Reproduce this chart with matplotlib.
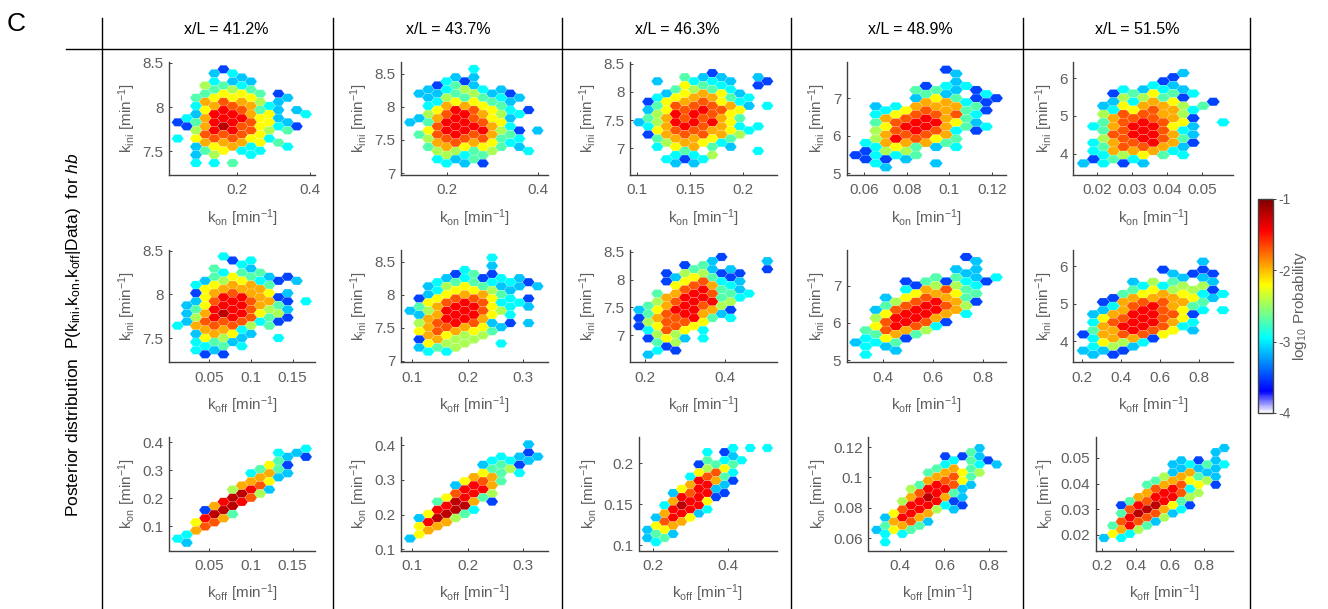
import matplotlib

matplotlib.use("Agg")
import matplotlib.pyplot as plt
import numpy as np
from matplotlib.cm import ScalarMappable
from matplotlib.collections import PolyCollection
from matplotlib.colors import LinearSegmentedColormap, Normalize
from matplotlib.lines import Line2D

plt.rcParams["font.family"] = ["Liberation Sans", "DejaVu Sans"]
plt.rcParams["mathtext.fontset"] = "custom"
plt.rcParams["mathtext.rm"] = "Liberation Sans"
plt.rcParams["mathtext.it"] = "Liberation Sans:italic"
plt.rcParams["mathtext.default"] = "regular"

POSITIONS = ["41.2", "43.7", "46.3", "48.9", "51.5"]
KINI = "k$_{ini}$ [min$^{-1}$]"
KON = "k$_{on}$ [min$^{-1}$]"
KOFF = "k$_{off}$ [min$^{-1}$]"

# log10 probability for each colour class used in the grids below
LEVELS = [-3.5, -3.12, -2.95, -2.7, -2.45, -2.2, -1.95, -1.7, -1.44, -1.2]

# grids: one string per half row, top to bottom, one character per hex column
G00 = [".....0", "....1.2", ".......1", "....2.1.1", "...4.3.2", "....3.4.3", "...3.5.5.3.0",
       "..3.5.5.5...1", "...6.7.6.4.1", "..2.6.7.6.2", "...5.8.7.3.1.1", "..1.8.8.6.5...2",
       ".2.6.8.8.5.1", "0.3.8.8.7.5.1", ".0.6.9.7.5.2.0", "..4.8.8.7.4.3", "...7.7.7.5",
       "2.5.7.7.5.2", "...6.6.6.5.3", "..1.5.6.2...2", "...3.5.2.2", "..1.4...2", "", "..2.2.3"]
G10 = [".....2", "......0.2", ".......2", "....3...1", ".....2.3.3", "....3.5.3.1.0", "...1.4.5.2.0.1",
       "..2.5.6.6.3", "...5.6.6.6", "..0.6.7.6.5.1", "...5.8.8.6.0", "..1.7.8.7.6.0.2",
       ".1.5.8.8.6.3", "..3.8.8.7.4.1", ".1.6.9.8.5.4", "..4.8.8.7.3.0", ".1.7.7.7.2.0",
       "2.6.7.7.4.3", "...6.6.2", "..1.6.5.1", "...5.4.1...2", "..2.3.1", "...2.3.2", "..2.1", "...0.0"]
G20 = ["..............2", "...........2.1", "............1.0", "...........3", "..........5.0",
       ".........3.3", "........2.6.1", ".........6.1", "........6.5", ".......6.7", "......4.8.1",
       ".......9.4", "......9.7", ".....8.8", "....6.9", "...0.9", "....9.3", "...8.6", "..5.7",
       "...7", "..6", ".2", "2", ".1"]

G01 = [".......2", "", ".....1.1", "....2.0", "...0.3.1", "..1.2.4.2.1", ".1.1.3.4.1.0",
       "..1.4.3.3.2.1", "...2.5.5.3.1", "..2.6.6.5.3", "...5.8.7.5.2.0", "..4.7.8.6.4.2",
       ".1.6.8.7.5.1", "1.3.8.8.7.5", "...7.8.8.6.2", "..5.8.8.8.4.0.1", ".3.7.8.7.6.3",
       "..4.7.7.7.3.2", "...6.7.6.5.2", "..3.6.5.5.3.1", "...4.4.3.4...2", "....4.2.3",
       "...2.1.3", "....2.1.0"]
G11 = [".........2", "", ".........1", "......2", ".....0.3.0", "....1.2.0.2.1", "...2.3.3.2.2.0",
       "..1.4.5.3.1.1.1", "...2.5.5.4.1", "..1.5.6.6.3", ".0.5.7.7.5.2.0", "..5.7.8.7.2.2",
       ".3.6.8.8.5.2.1", "1.4.8.8.7.4", ".1.6.8.8.5.2", "..6.8.8.6", ".4.7.8.7.1.0.1",
       "..6.7.6.5.1", ".5.7.6.5.3", "..6.5.4.4", ".0.6.4.4", "..5.4.4...2", ".1.3.4", "..2.2"]
G21 = [".............1", "", ".............0", "..........2.1.1", ".........2.2.1", "........1.3.0",
       ".........3.4", "........5.3.2", ".......6.6", "......5.7.3", ".....1.8.6", "......8.8",
       ".....7.8.4", "....5.8.3", "...3.9.6.0", "....8.9", "...8.9.2", "..5.9.3", ".1.9.4",
       "..8.6", ".5.6", "..6", ".5", "1"]

G02 = ["........0", ".....3.1.1...1", "..1...2.2.1...0", ".....5.3.2...0", "....3.4.3.2",
       "...1.5.6.5.1", "..2.5.6.6.3.2", ".0.5.6.7.5.2", "..3.7.7.7.6.1.2", ".1.5.7.8.7.5",
       "..4.8.8.7.5", ".3.6.7.7.6.3", "1.4.8.8.8.5", ".2.6.8.7.6.2.2", "..5.7.7.6.5.2",
       ".0.6.7.7.6.4", "..3.6.6.5.3", "...4.6.5.2", "..2.5.6.3.1", ".....3.......2.",
       "....2.2.4", "...2.0.2", "....1.1"]
G12 = [".........0", "........1.....1", ".....0.3", "......3.1.1...0", "...0.4.4.0.0", "....1.5.3.0",
       "...0.5.7.2.1", "....5.7.6.2", ".....7.8.3.1", "..3.6.8.7.3.2", "...6.8.8.3.2", "..4.7.8.8.4",
       ".3.6.8.7.4", "1.5.8.8.6.0", ".3.7.8.6.1", "0.6.7.8.3.2", ".4.7.7.5", "0.5.7.5", ".2.7.5.2",
       "..4.4", ".0.5.1.2", "..3.4", "...0", "..2.0", ".1"]
G22 = ["..........2.2.2", ".......2.0", "..........1", ".......3.2.2", "......0.3.3", ".......4.5",
       "......5.7.2", ".....2.7.3", "......8.6.0", ".....6.8.1", "....5.8.1", "...1.7.8.0",
       "....8.8.0", "...6.8.5", "..2.9.8", "...8.8.2", "..6.8.1", ".1.8.5", "..7.6", ".5.6",
       "1.5", ".3.1", "1.3", ".2"]

G03 = [".........0", "..........1", "", "..........1", ".......0.2.2", "......3.3.1.0", ".......3.1...2",
       "......1.5.3.0.0", ".......6.6.2.0", "..1.2.6.6.6.3", "...2.5.7.6.3.0", "..2.5.7.7.7.2",
       "...6.7.8.6.3", "..3.7.8.8.5.1", "...5.8.8.6.3.2", "..4.7.8.7.2.0", "...6.7.7.6",
       "..4.8.7.5.3", ".2.6.6.6.3", "..2.5.3.1.2", ".0.4.4", "0.2.2.3", ".0.0.1", "..2.....1", "...1"]
G13 = ["...........0", "............1", "", "..........1.1", "...........1", "........3.3.1.2",
       ".....0.3.0.2.0", "......0.4.4.2", ".....2.6.7.3", "......5.6.5.3", "...1.5.7.6.3",
       "....4.7.8.6.0", "...3.7.8.7.4", "..1.7.8.8.6", "...5.8.8.6.2", "..4.8.8.6", "...7.8.7.0",
       "..5.8.7.2", ".3.7.6.4", "..3.6.3", ".2.5.0", "1.2.3", ".2.1", "....1", ".2"]
G23 = ["............1", "...........3", "........0.0.1", ".........2.3.0", "........2...2.1",
       ".......3.6.3", "......3.6.5.4", ".......6.7.3", "......6.7.5", ".....3.8.7.1", "....4.8.8.1",
       ".....7.8.3", "....6.9.6.1", "...4.8.8.0", "....8.8.2.0", "...7.8.4.1", "..5.8.6",
       ".1.8.6", "..6.7.1", ".3.6.3", "1.5.3", ".2.2", "", ".2"]

G04 = ["..........1", ".........0", "........0", ".......2.1", "....2.1.2.1", "...0.3.5.3.2",
       "....4.4.3.0", "...1.2.6.5...0", "..1.5.6.6.4.3", "...2.5.7.6.2", "..4.7.7.6.4", "...6.7.7.6.0",
       "..3.7.8.7.5...2", ".2.6.8.8.5.1", "..3.7.8.7.2", "...7.8.8.6.1", "..4.7.8.7.3", ".2.6.7.8.6.0",
       "..3.7.7.6.1", ".2.6.6.6.2", "..2.4.5.3.2", ".0.3.2", "1.2.0.1"]
G14 = ["............1", "", "........0...0", ".........1.0.0", "..........1.1", ".....1.4.3...1",
       "......2.2.4.4", ".....3.5.4.4.0", "....3.5.6.5.2.2", "...0.6.6.6.5.1", "..0.6.7.7.6.3",
       "...2.7.8.6.3", "..1.6.8.7.5.2.2", ".1.6.8.8.7.0", "..5.7.8.7.5", ".2.7.8.8.6.2", "..6.8.8.7.2",
       ".3.6.8.7.5.1", "0.6.7.7.5", ".2.6.6.0", "..5.4.2", ".2.4.1", "1.1.0", ".1.0"]
G24 = ["..............1", ".............1", "", ".........1.0.1", "........1.2.3.2", ".........1.1.1",
       "........1.6.1", ".......4.6.3.1", "......3.6.5.4", ".....3.6.7.5.0", "......7.8.2", ".....6.8.7.4",
       "....6.8.8.4", "...3.7.8.3", "..0.8.9.5.0", "...7.9.6.2", "..3.9.7.1", "...8.7.4", "..7.7.1",
       ".3.8.3", "..6.4", ".5.2", "1.2"]

GRIDS = [[G00, G01, G02, G03, G04], [G10, G11, G12, G13, G14], [G20, G21, G22, G23, G24]]

# hex centres: first/last column, top/bottom row, in data units
HEX_X = [[(0.0358, 0.389), (0.1173, 0.400), (0.1022, 0.2225), (0.0559, 0.1222), (0.0162, 0.0561)],
         [(0.0125, 0.1659), (0.0958, 0.3258), (0.185, 0.5058), (0.2907, 0.8533), (0.2085, 0.9227)],
         [(0.0125, 0.1659), (0.0958, 0.3258), (0.184, 0.504), (0.295, 0.8345), (0.2098, 0.9176)]]
HEX_Y = [[(8.428, 7.364), (8.571, 7.146), (8.334, 6.734), (7.764, 5.151), (6.132, 3.753)],
         [(8.435, 7.317), (8.561, 7.136), (8.405, 6.655), (7.764, 5.151), (6.123, 3.639)],
         [(0.3762, 0.0405), (0.4019, 0.1315), (0.2187, 0.1041), (0.1193, 0.0574), (0.0539, 0.0187)]]
XLIMS = [[(0.012, 0.414), (0.0967, 0.4236), (0.0938, 0.2313), (0.0517, 0.1266), (0.0133, 0.059)],
         [(0.0022, 0.1767), (0.079, 0.345), (0.1625, 0.5292), (0.2547, 0.8907), (0.1574, 0.9756)],
         [(0.0022, 0.1767), (0.079, 0.345), (0.1618, 0.5289), (0.2576, 0.875), (0.1608, 0.9706)]]
YLIMS = [[(7.228, 8.511), (6.97, 8.677), (6.526, 8.53), (4.947, 7.969), (3.445, 6.423)],
         [(7.226, 8.508), (6.975, 8.677), (6.518, 8.53), (4.947, 7.951), (3.436, 6.432)],
         [(0.0131, 0.4179), (0.0971, 0.423), (0.0939, 0.2321), (0.0519, 0.1266), (0.0138, 0.0582)]]
XTICKS = [[[0.2, 0.4], [0.2, 0.4], [0.1, 0.15, 0.2], [0.06, 0.08, 0.1, 0.12], [0.02, 0.03, 0.04, 0.05]],
          [[0.05, 0.1, 0.15], [0.1, 0.2, 0.3], [0.2, 0.4], [0.4, 0.6, 0.8], [0.2, 0.4, 0.6, 0.8]],
          [[0.05, 0.1, 0.15], [0.1, 0.2, 0.3], [0.2, 0.4], [0.4, 0.6, 0.8], [0.2, 0.4, 0.6, 0.8]]]
YTICKS = [[[7.5, 8, 8.5], [7, 7.5, 8, 8.5], [7, 7.5, 8, 8.5], [5, 6, 7], [4, 5, 6]],
          [[7.5, 8, 8.5], [7, 7.5, 8, 8.5], [7, 7.5, 8, 8.5], [5, 6, 7], [4, 5, 6]],
          [[0.1, 0.2, 0.3, 0.4], [0.1, 0.2, 0.3, 0.4], [0.1, 0.15, 0.2], [0.06, 0.08, 0.1, 0.12],
           [0.02, 0.03, 0.04, 0.05]]]
ROW_LABELS = [(KON, KINI), (KOFF, KINI), (KOFF, KON)]

# axes boxes in pixels: left, right per panel, top, bottom per row
BOX_X = [[(169, 315), (400.7, 548.3), (630, 776.7), (846.7, 1005.7), (1073.3, 1233.3)],
         [(169, 315), (400.7, 548.3), (630, 776.7), (846.7, 1005.7), (1073.3, 1233.3)],
         [(169, 315), (400.7, 548.3), (639, 776.7), (868.3, 1005.7), (1095.7, 1233.3)]]
BOX_Y = [(62, 175), (250, 362.3), (437, 550.5)]
TITLE_X = [226, 448, 677, 910, 1137]
DIVIDER_X = [102, 333, 562, 791, 1023, 1250]

W, H = 1328, 609
GREY = "#5f5f5f"
SPINE = "#404040"


def make_cmap():
    stops = [(0.0, "#ffffff"), (0.1, "#0000ff"), (0.35, "#00ffff"), (0.6, "#ffff00"),
             (0.853, "#ff0000"), (1.0, "#800000")]
    return LinearSegmentedColormap.from_list("white_jet", stops, N=256)


def draw_panel(ax, grid, hex_x, hex_y, cmap, norm):
    n_rows = len(grid)
    dx = (hex_x[1] - hex_x[0]) / 14
    dy = (hex_y[1] - hex_y[0]) / (n_rows - 1)
    w = dx * 2 / 3
    shape = np.array([(-w, 0), (-w / 2, dy), (w / 2, dy), (w, 0), (w / 2, -dy), (-w / 2, -dy)])
    polys = []
    values = []
    for r, row in enumerate(grid):
        for c, ch in enumerate(row):
            if ch == ".":
                continue
            polys.append(shape + (hex_x[0] + c * dx, hex_y[0] + r * dy))
            values.append(LEVELS[int(ch)])
    coll = PolyCollection(polys, array=np.array(values), cmap=cmap, norm=norm,
                          edgecolors="#ffffff60", linewidths=0.3)
    ax.add_collection(coll)


def style_axes(ax, xlim, ylim, xticks, yticks, xlabel, ylabel):
    ax.set_xlim(xlim)
    ax.set_ylim(ylim)
    ax.set_xticks(xticks, [f"{t:g}" for t in xticks])
    ax.set_yticks(yticks, [f"{t:g}" for t in yticks])
    ax.spines[["top", "right"]].set_visible(False)
    ax.spines[["left", "bottom"]].set_color(SPINE)
    ax.spines[["left", "bottom"]].set_linewidth(1.0)
    ax.tick_params(direction="in", length=2, width=0.7, color=SPINE, labelcolor=GREY,
                   labelsize=11, pad=4)
    ax.tick_params(axis="x", pad=6)
    ax.set_xlabel(xlabel, fontsize=11, color=GREY, labelpad=7)
    ax.set_ylabel(ylabel, fontsize=11, color=GREY, labelpad=3)


def main():
    fig = plt.figure(figsize=(W / 100, H / 100), dpi=100)
    cmap = make_cmap()
    norm = Normalize(-4, -1)

    for row in range(3):
        top, bottom = BOX_Y[row]
        for col in range(5):
            left, right = BOX_X[row][col]
            ax = fig.add_axes([left / W, 1 - bottom / H, (right - left) / W, (bottom - top) / H])
            draw_panel(ax, GRIDS[row][col], HEX_X[row][col], HEX_Y[row][col], cmap, norm)
            xlabel, ylabel = ROW_LABELS[row]
            style_axes(ax, XLIMS[row][col], YLIMS[row][col], XTICKS[row][col], YTICKS[row][col],
                       xlabel, ylabel)

    for x in DIVIDER_X:
        fig.add_artist(Line2D([x / W, x / W], [1 - 18 / H, 0], color="black", lw=1.0))
    fig.add_artist(Line2D([66 / W, 1250 / W], [1 - 49 / H, 1 - 49 / H], color="black", lw=1.0))

    for x, pos in zip(TITLE_X, POSITIONS, strict=True):
        fig.text(x / W, 1 - 29 / H, f"x/L = {pos}%", ha="center", va="center", fontsize=11.5)
    fig.text(7 / W, 1 - 24 / H, "C", ha="left", va="center", fontsize=19)
    fig.text(74 / W, 1 - 335 / H,
             "Posterior distribution  P(k$_{ini}$,k$_{on}$,k$_{off}$|Data)  for $\\mathit{hb}$",
             rotation=90, ha="center", va="center", fontsize=12.5)

    cax = fig.add_axes([1258 / W, 1 - 413 / H, 15 / W, 214 / H])
    cbar = fig.colorbar(ScalarMappable(norm=norm, cmap=cmap), cax=cax)
    cbar.set_ticks([-4, -3, -2, -1], labels=["-4", "-3", "-2", "-1"])
    cbar.ax.tick_params(direction="out", length=2, width=0.7, color=SPINE, labelcolor=GREY,
                        labelsize=10, pad=2)
    cbar.outline.set_edgecolor(SPINE)
    cbar.outline.set_linewidth(1.0)
    fig.text(1300 / W, 1 - 306 / H, "log$_{10}$ Probability", rotation=90, ha="center",
             va="center", fontsize=11, color=GREY)

    fig.savefig("out.png", dpi=100)
    plt.close(fig)


main()
